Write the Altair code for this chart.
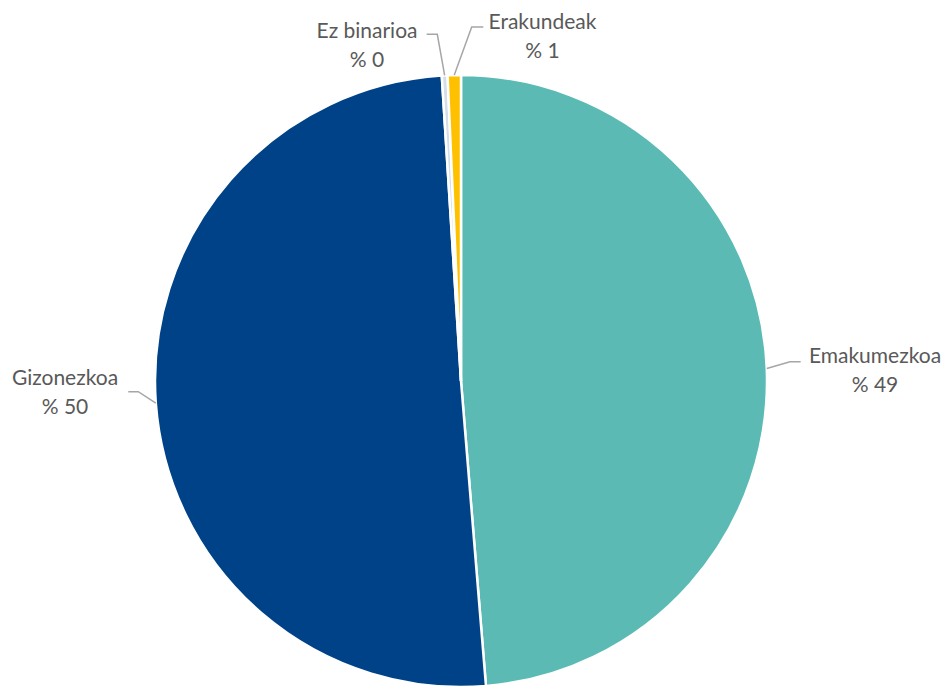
import math
import altair as alt
import pandas as pd

# ---- data ----
CATEGORIES = ["Emakumezkoa", "Gizonezkoa", "Ez binarioa", "Erakundeak"]
VALUES = [48.7, 50.3, 0.3, 0.7]
COLORS = ["#5BBBB4", "#004288", "#D3DEEA", "#FFC000"]

# ---- layout (page pixels) ----
W, H = 934, 681
CX, CY, R = 461, 381, 306
# label baseline anchor, leader elbow, leader end  (per category)
LABEL_POS = {
    "Emakumezkoa": (875, 362.5),
    "Gizonezkoa": (65, 385),
    "Ez binarioa": (367, 37.5),
    "Erakundeak": (542.5, 29),
}
LEADER = {
    "Emakumezkoa": [(790, 361.7), (800.7, 361.7)],
    "Gizonezkoa": [(138.3, 391.7), (128.3, 391.7)],
    "Ez binarioa": [(437.3, 34.3), (426.7, 34.3)],
    "Erakundeak": [(471.7, 27), (483.3, 27)],
}

total = sum(VALUES)
df = pd.DataFrame({"category": CATEGORIES, "value": VALUES, "order": range(len(VALUES))})

# label + leader tables derived from the data
lab_rows, line_rows = [], []
cum = 0.0
for cat, v in zip(CATEGORIES, VALUES):
    mid = 2 * math.pi * (cum + v / 2) / total
    cum += v
    ex, ey = CX + R * math.sin(mid), CY - R * math.cos(mid)
    lx, ly = LABEL_POS[cat]
    lab_rows.append({"category": cat, "lx": lx, "ly": ly,
                     "pct": "% " + str(int(round(v / total * 100)))})
    pts = [(ex, ey)] + LEADER[cat]
    for i, (px, py) in enumerate(pts):
        line_rows.append({"category": cat, "i": i, "px": px, "py": py})
labels = pd.DataFrame(lab_rows)
lines = pd.DataFrame(line_rows)

XS = alt.Scale(domain=[8, 8 + W], nice=False, zero=False)
YS = alt.Scale(domain=[8, 8 + H], nice=False, zero=False, reverse=True)

pie = alt.Chart(df).mark_arc(outerRadius=R, stroke="white", strokeWidth=2.5).encode(
    x=alt.XDatum(CX, type="quantitative", scale=XS, axis=None),
    y=alt.YDatum(CY, type="quantitative", scale=YS, axis=None),
    theta=alt.Theta("value:Q", stack=True),
    order=alt.Order("order:Q"),
    color=alt.Color("category:N", scale=alt.Scale(domain=CATEGORIES, range=COLORS), legend=None),
)

leaders = alt.Chart(lines).mark_line(color="#A6A6A6", strokeWidth=1.5).encode(
    x=alt.X("px:Q", scale=XS, axis=None),
    y=alt.Y("py:Q", scale=YS, axis=None),
    detail="category:N",
    order="i:Q",
)

FONT = "Lato"
name_txt = alt.Chart(labels).mark_text(font=FONT, fontSize=21, color="#595959",
                                        align="center", baseline="alphabetic").encode(
    x=alt.X("lx:Q", scale=XS, axis=None),
    y=alt.Y("ly:Q", scale=YS, axis=None),
    text="category:N",
)
pct_txt = alt.Chart(labels).mark_text(font=FONT, fontSize=21, color="#595959",
                                       align="center", baseline="alphabetic", dy=29).encode(
    x=alt.X("lx:Q", scale=XS, axis=None),
    y=alt.Y("ly:Q", scale=YS, axis=None),
    text="pct:N",
)

chart = alt.layer(pie, leaders, name_txt, pct_txt).properties(
    width=W, height=H, padding=0, autosize="none",
).configure_view(stroke=None)

chart.save("out.html", embed_options={"renderer": "svg", "actions": False})
